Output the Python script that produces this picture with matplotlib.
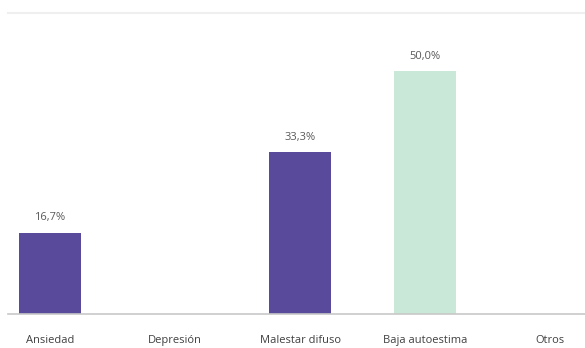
import matplotlib
matplotlib.use("Agg")
import matplotlib.pyplot as plt

categories = ["Ansiedad", "Depresión", "Malestar difuso", "Baja autoestima", "Otros"]
values = [16.7, 0.0, 33.3, 50.0, 0.0]
colors = ["#594a9c", "#594a9c", "#594a9c", "#c9e8d8", "#594a9c"]

plt.rcParams["font.family"] = ["Open Sans", "DejaVu Sans"]

fig = plt.figure(figsize=(5.85, 3.48), dpi=100)
ax = fig.add_axes([8 / 585, 1 - 314 / 348, 577 / 585, 301 / 348])

x = list(range(len(categories)))
bars = ax.bar(x, values, width=0.5, color=colors)

for xi, v in zip(x, values):
    if v > 0:
        ax.annotate(f"{v:.1f}%".replace(".", ","), (xi, v), xytext=(0, 7),
                    textcoords="offset points", ha="center", va="bottom",
                    fontsize=8, color="#595959")

ax.set_xlim(-0.336, 4.28)
ax.set_ylim(0, 62)
ax.set_yticks([])
ax.set_xticks(x)
ax.set_xticklabels(categories, fontsize=8, color="#404040")
ax.tick_params(axis="x", length=0, pad=15)

for side in ["left", "right"]:
    ax.spines[side].set_visible(False)
ax.spines["bottom"].set_color("#c8c8c8")
ax.spines["bottom"].set_linewidth(1.2)
ax.spines["top"].set_color("#efefef")
ax.spines["top"].set_linewidth(1.5)

fig.savefig("out.png", dpi=100)
